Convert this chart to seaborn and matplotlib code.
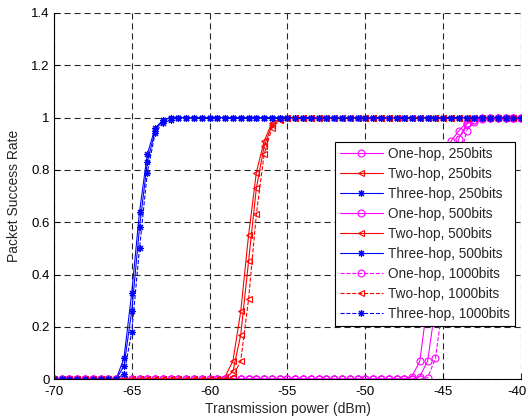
import matplotlib
matplotlib.use("Agg")
import matplotlib.pyplot as plt
import matplotlib.transforms as mtransforms
import numpy as np
import pandas as pd
import seaborn as sns
from matplotlib.ticker import FormatStrFormatter, MultipleLocator

# transmission power grid, 0.5 dBm steps from -70 to -40
power_dbm = np.arange(-70, -39.75, 0.5)
x_ticks = [-70, -65, -60, -55, -50, -45, -40]

# packet success rate (zeros before the rise, ones after)
one_hop_250 = [0.0] * 46 + [0.01, 0.07, 0.30, 0.58, 0.80, 0.91, 0.95, 0.98, 0.99] + [1.0] * 6
two_hop_250 = [0.0] * 22 + [0.01, 0.07, 0.26, 0.55, 0.79, 0.91, 0.98, 0.995] + [1.0] * 31
three_hop_250 = [0.0] * 9 + [0.08, 0.33, 0.64, 0.86, 0.96, 0.99] + [1.0] * 46

one_hop_500 = [0.0] * 47 + [0.01, 0.07, 0.28, 0.56, 0.79, 0.92, 0.975, 0.99] + [1.0] * 6
two_hop_500 = [0.0] * 23 + [0.03, 0.17, 0.45, 0.73, 0.89, 0.97, 0.99] + [1.0] * 31
three_hop_500 = [0.0] * 9 + [0.05, 0.26, 0.58, 0.83, 0.95, 0.99] + [1.0] * 46

one_hop_1000 = [0.0] * 48 + [0.005, 0.08, 0.30, 0.58, 0.82, 0.95, 0.985, 0.995] + [1.0] * 5
two_hop_1000 = [0.0] * 23 + [0.01, 0.07, 0.305, 0.63, 0.86, 0.96, 0.99] + [1.0] * 31
three_hop_1000 = [0.0] * 9 + [0.02, 0.18, 0.50, 0.79, 0.94, 0.98, 0.99] + [1.0] * 45

series = [
    ("One-hop, 250bits", one_hop_250),
    ("Two-hop, 250bits", two_hop_250),
    ("Three-hop, 250bits", three_hop_250),
    ("One-hop, 500bits", one_hop_500),
    ("Two-hop, 500bits", two_hop_500),
    ("Three-hop, 500bits", three_hop_500),
    ("One-hop, 1000bits", one_hop_1000),
    ("Two-hop, 1000bits", two_hop_1000),
    ("Three-hop, 1000bits", three_hop_1000),
]

hop_colors = ["#ff00ff", "#ff0000", "#0000ff"]
hop_markers = ["o", "<", (8, 2, 0)]
bit_styles = ["-", "-", "--"]

sns.set_style("ticks")
plt.rcParams["font.family"] = ["Liberation Sans", "DejaVu Sans"]
plt.rcParams["axes.unicode_minus"] = False

fig = plt.figure(figsize=(5.28, 4.18), dpi=100)
ax = fig.add_axes([0.102, 0.093, 0.885, 0.876])

for i, (label, values) in enumerate(series):
    df = pd.DataFrame({"power": power_dbm, "rate": values})
    color = hop_colors[i % 3]
    sns.lineplot(
        data=df,
        x="power",
        y="rate",
        ax=ax,
        label=label,
        color=color,
        linestyle=bit_styles[i // 3],
        linewidth=0.8,
        marker=hop_markers[i % 3],
        markersize=5,
        markerfacecolor="none",
        markeredgecolor=color,
        markeredgewidth=0.8,
    )

ax.set_xlim(-70, -40)
ax.set_ylim(0, 1.4)
ax.set_xticks(x_ticks)
ax.yaxis.set_major_locator(MultipleLocator(0.2))
ax.yaxis.set_major_formatter(FormatStrFormatter("%g"))
ax.xaxis.set_major_formatter(FormatStrFormatter("%g"))
ax.grid(True, color="#262626", linestyle=(0, (5.5, 3.5)), linewidth=0.8)
ax.tick_params(direction="in", length=4, width=0.6, labelsize=9.5, colors="black")
ax.tick_params(axis="x", pad=5)
ax.tick_params(axis="y", pad=3)
for side in ["top", "right"]:
    ax.spines[side].set_visible(False)
for side in ["left", "bottom"]:
    ax.spines[side].set_linewidth(0.8)
    ax.spines[side].set_color("black")

ax.set_xlabel("Transmission power (dBm)", fontsize=10, labelpad=2.5)
ax.set_ylabel("Packet Success Rate", fontsize=10, labelpad=7)

leg = ax.legend(
    loc="upper right",
    bbox_to_anchor=(0.987, 0.648),
    borderaxespad=0,
    fancybox=False,
    framealpha=1,
    edgecolor="black",
    fontsize=9.8,
    handlelength=3.2,
    labelspacing=0.44,
    borderpad=0.37,
    handletextpad=0.37,
)
leg.get_frame().set_linewidth(0.8)

# keep the last x tick label ("-40") inside the canvas
fig.canvas.draw()
last_tick = ax.xaxis.get_major_ticks()[-1]
last_tick.label1.set_horizontalalignment("right")
last_tick.label1.set_transform(
    last_tick.label1.get_transform()
    + mtransforms.ScaledTranslation(0.05, 0, fig.dpi_scale_trans)
)

fig.savefig("out.png", dpi=100)
